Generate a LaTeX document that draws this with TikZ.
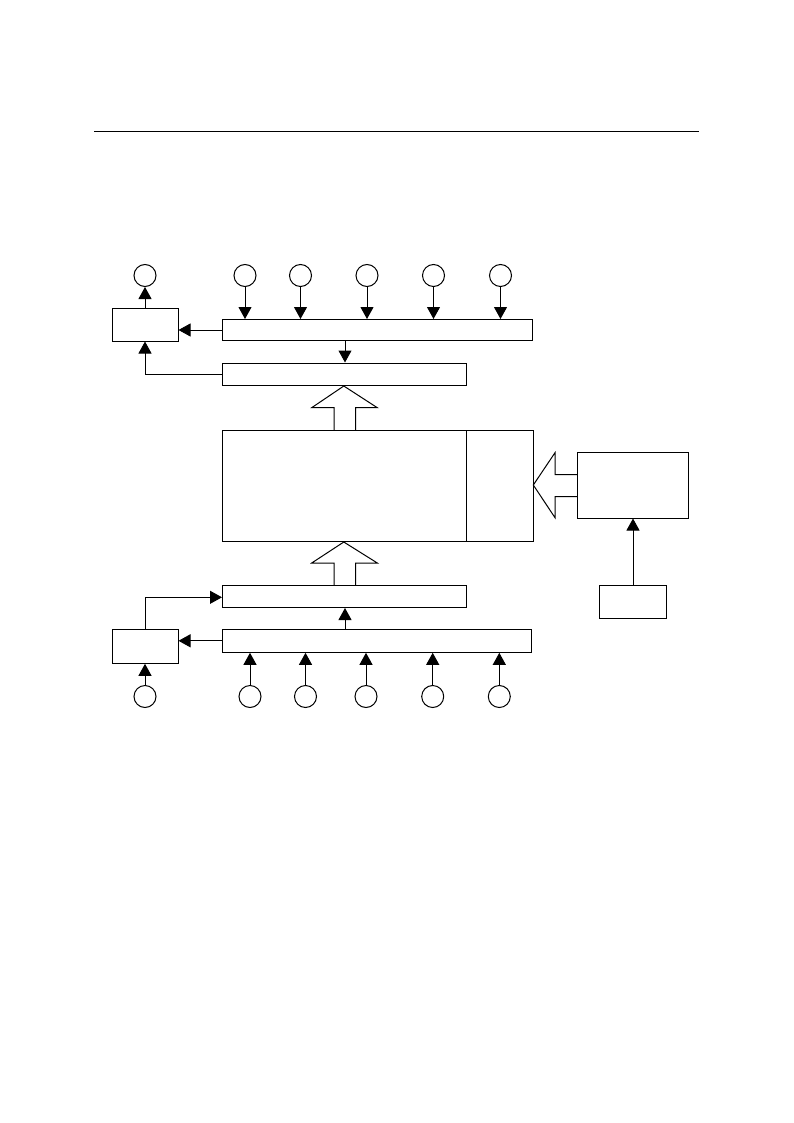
\documentclass[tikz,border=0pt]{standalone}
\usetikzlibrary{arrows.meta,calc}
\begin{document}
\begin{tikzpicture}[x=1pt,y=-1pt,line width=1pt,
  blk/.style={draw,rectangle,minimum width=0pt,minimum height=0pt,inner sep=0pt},
  sig/.style={circle,draw,minimum size=22pt,inner sep=0pt},
  arr/.style={-{Triangle[length=12pt,width=13pt]}},
  fat/.style={draw,line width=1pt}]
\useasboundingbox (0,0) rectangle (793,1123);
% header rule
\coordinate (hl) at (94,131.5);
\coordinate (hr) at (699,131.5);
\draw[line width=1.4pt] (hl) -- (hr);
% boxes
\node[blk,minimum width=66pt,minimum height=33pt] (lbT) at (145,324.5) {};
\node[blk,minimum width=310pt,minimum height=21pt] (busT) at (377.5,330) {};
\node[blk,minimum width=244pt,minimum height=22pt] (regT) at (344.5,374) {};
\node[blk,minimum width=311pt,minimum height=111pt] (core) at (377.8,486) {};
\draw (466.7,430.5) -- (466.7,541.5);
\node[blk,minimum width=111pt,minimum height=66pt] (rbox) at (633,485) {};
\node[blk,minimum width=67pt,minimum height=33pt] (sbox) at (633,602) {};
\node[blk,minimum width=244pt,minimum height=22pt] (regB) at (344.5,596.5) {};
\node[blk,minimum width=66pt,minimum height=34pt] (lbB) at (145,646.3) {};
\node[blk,minimum width=309pt,minimum height=23pt] (busB) at (377.2,640.8) {};
% top circles
\node[sig] (tc0) at (145,275.5) {};
\foreach \i/\x in {1/245,2/300.5,3/367,4/433.5,5/500.5}{
  \node[sig] (tc\i) at (\x,275.5) {};
  \draw[arr] (tc\i.south) -- (tc\i.south |- busT.north);
}
\draw[arr] (lbT.north) -- (tc0.south);
\draw[arr] (busT.west) -- (busT.west -| lbT.east);
\draw[arr] (busT.south -| 345,0) -- (regT.north -| 345,0);
\draw[arr] (regT.west) -- (regT.west -| lbT.south) -- (lbT.south);
% bottom circles
\node[sig] (bc0) at (145,696.5) {};
\foreach \i/\x in {1/250,2/305.5,3/366,4/432.7,5/499.3}{
  \node[sig] (bc\i) at (\x,696.5) {};
  \draw[arr] (bc\i.north) -- (bc\i.north |- busB.south);
}
\draw[arr] (bc0.north) -- (lbB.south);
\draw[arr] (busB.west) -- (busB.west -| lbB.east);
\draw[arr] (busB.north -| 345,0) -- (regB.south -| 345,0);
\coordinate (bend) at (145,597.3);
\draw[arr] (lbB.north) -- (bend) -- (bend -| regB.west);
% small box to right box
\draw[arr] (sbox.north) -- (rbox.south);
% fat arrows up
\draw[fat] (334,430.5) -- (334,407.7) -- (311.7,407.7) -- (343.8,386) -- (377.3,407.7) -- (355.7,407.7) -- (355.7,430.5);
\draw[fat] (334,585.5) -- (334,563) -- (311.7,563) -- (343.8,542) -- (377.3,563) -- (355.7,563) -- (355.7,585.5);
% fat arrow left
\draw[fat] (577.3,474.7) -- (555,474.7) -- (555,452.7) -- (533.3,485) -- (555,517.7) -- (555,496.7) -- (577.3,496.7);
\end{tikzpicture}
\end{document}
